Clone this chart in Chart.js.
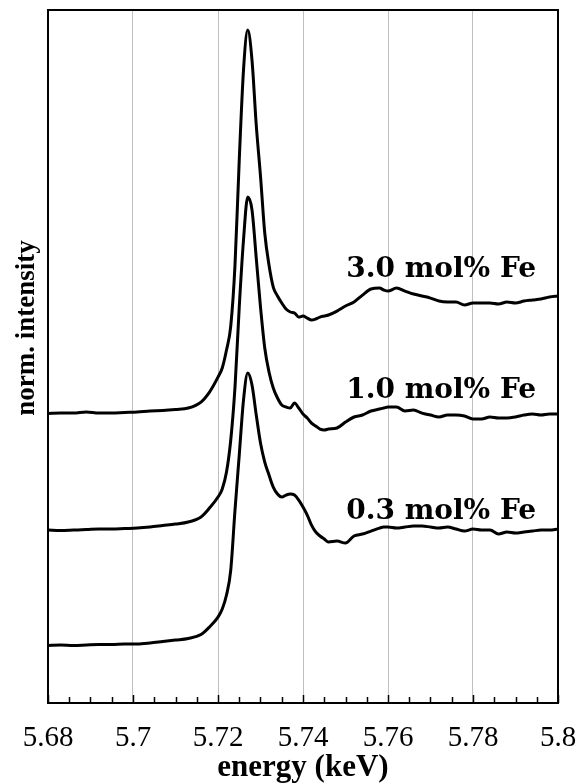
<!DOCTYPE html>
<html>
<head>
<meta charset="utf-8">
<script src="https://cdn.jsdelivr.net/npm/chart.js@4.4.1/dist/chart.umd.min.js"></script>
<style>
  html, body { margin: 0; padding: 0; background: #fff; }
</style>
</head>
<body>
<canvas id="chart" width="579" height="783"></canvas>
<script>
// energy grid (keV)
const energy = [
  5.680, 5.683, 5.686, 5.689, 5.692, 5.695, 5.698, 5.701, 5.704, 5.707,
  5.710, 5.713, 5.716, 5.718, 5.720, 5.721, 5.722, 5.723, 5.724, 5.725,
  5.726, 5.727, 5.728, 5.729, 5.730, 5.731, 5.732, 5.733, 5.734, 5.735,
  5.736, 5.737, 5.738, 5.739, 5.740, 5.741, 5.742, 5.743, 5.744, 5.745,
  5.746, 5.748, 5.750, 5.752, 5.754, 5.756, 5.758, 5.759, 5.760, 5.762,
  5.764, 5.766, 5.768, 5.770, 5.772, 5.774, 5.776, 5.778, 5.780, 5.782,
  5.784, 5.786, 5.788, 5.790, 5.792, 5.794, 5.796, 5.798, 5.800,
];

// normalized intensity of each sample
const fe03 = [
  -0.004, 0.000, -0.004, 0.000, 0.004, 0.004, 0.009, 0.009, 0.017, 0.030,
  0.043, 0.057, 0.091, 0.157, 0.243, 0.313, 0.435, 0.652, 1.174, 1.652,
  2.130, 2.365, 2.261, 2.000, 1.757, 1.591, 1.478, 1.374, 1.313, 1.287,
  1.304, 1.313, 1.304, 1.261, 1.200, 1.130, 1.043, 0.983, 0.948, 0.922,
  0.896, 0.904, 0.887, 0.948, 0.965, 0.991, 1.017, 1.026, 1.026, 1.017,
  1.026, 1.035, 1.035, 1.026, 1.017, 1.026, 1.009, 0.991, 1.009, 1.000,
  1.000, 0.965, 0.983, 0.974, 0.983, 0.991, 1.000, 1.000, 1.009,
];
const fe10 = [
  0.000, -0.004, 0.000, 0.004, 0.009, 0.009, 0.013, 0.017, 0.026, 0.039,
  0.052, 0.070, 0.113, 0.191, 0.287, 0.357, 0.504, 0.783, 1.243, 1.939,
  2.522, 2.896, 2.783, 2.365, 1.939, 1.583, 1.374, 1.235, 1.148, 1.087,
  1.070, 1.061, 1.104, 1.061, 1.009, 0.974, 0.930, 0.904, 0.878, 0.870,
  0.878, 0.887, 0.939, 0.983, 1.000, 1.035, 1.052, 1.061, 1.070, 1.070,
  1.035, 1.043, 1.017, 1.000, 0.983, 1.000, 1.000, 0.991, 0.965, 0.965,
  0.983, 0.974, 0.974, 0.983, 1.000, 1.009, 1.000, 1.009, 1.009,
];
const fe30 = [
  0.013, 0.017, 0.017, 0.026, 0.017, 0.017, 0.022, 0.026, 0.035, 0.039,
  0.048, 0.061, 0.113, 0.200, 0.330, 0.409, 0.565, 0.774, 1.304, 2.217,
  3.000, 3.348, 3.087, 2.522, 2.078, 1.583, 1.304, 1.113, 1.035, 0.974,
  0.922, 0.896, 0.887, 0.852, 0.861, 0.843, 0.826, 0.835, 0.852, 0.861,
  0.870, 0.904, 0.948, 0.983, 1.043, 1.096, 1.104, 1.087, 1.078, 1.104,
  1.078, 1.052, 1.035, 1.017, 0.991, 0.983, 0.983, 0.957, 0.974, 0.974,
  0.974, 0.965, 0.983, 0.974, 0.991, 1.000, 1.009, 1.026, 1.035,
];

// vertical stacking offsets and curve labels
const seriesNames = ["0.3 mol% Fe", "1.0 mol% Fe", "3.0 mol% Fe"];
const offsets = [0, 1, 2];
const labelEnergy = 5.7725;
const labelY = [1.10, 2.15, 3.20];

const FONT = "'Liberation Serif', 'Times New Roman', serif";

const decorations = {
    id: "decorations",
    afterDraw(chart) {
        const { ctx, chartArea: a, scales: { x, y } } = chart;
        ctx.save();

        // top + right frame
        ctx.strokeStyle = "#000";
        ctx.lineWidth = 2;
        ctx.beginPath();
        ctx.moveTo(a.left, a.top);
        ctx.lineTo(a.right, a.top);
        ctx.lineTo(a.right, a.bottom);
        ctx.stroke();

        // inward tick marks on the energy axis
        ctx.lineWidth = 1.5;
        for (let i = 0; i <= 24; i++) {
            const px = Math.round(x.getPixelForValue(5.68 + i * 0.005)) + 0.5;
            const len = i % 4 === 0 ? 8 : 6;
            ctx.beginPath();
            ctx.moveTo(px, a.bottom);
            ctx.lineTo(px, a.bottom - len);
            ctx.stroke();
        }

        // curve labels
        ctx.fillStyle = "#000";
        ctx.font = "bold 28px 'DejaVu Serif', serif";
        ctx.textAlign = "center";
        ctx.textBaseline = "alphabetic";
        seriesNames.forEach((name, i) => {
            ctx.fillText(name, x.getPixelForValue(labelEnergy), y.getPixelForValue(labelY[i]));
        });

        // axis titles
        ctx.font = "bold 31px " + FONT;
        ctx.fillText("energy (keV)", (a.left + a.right) / 2, 776);

        ctx.translate(34, 328);
        ctx.rotate(-Math.PI / 2);
        ctx.font = "bold 27px " + FONT;
        ctx.fillText("norm. intensity", 0, 0);

        ctx.restore();
    },
};

new Chart(document.getElementById("chart"), {
    type: "line",
    data: {
        datasets: [fe03, fe10, fe30].map((vals, s) => ({
            label: seriesNames[s],
            data: energy.map((e, i) => ({ x: e, y: vals[i] + offsets[s] })),
            borderColor: "#000",
            borderWidth: 3,
            borderJoinStyle: "round",
            pointRadius: 0,
            cubicInterpolationMode: "monotone",
            fill: false,
        })),
    },
    options: {
        responsive: false,
        animation: false,
        layout: { padding: { top: 10, right: 21, left: 0, bottom: 0 } },
        plugins: {
            legend: { display: false },
            tooltip: { enabled: false },
        },
        scales: {
            x: {
                type: "linear",
                min: 5.68,
                max: 5.8,
                afterFit: (s) => { s.height = 80; s.paddingLeft = 0; s.paddingRight = 0; },
                ticks: {
                    stepSize: 0.02,
                    padding: 18,
                    color: "#000",
                    font: { family: FONT, size: 29 },
                    callback: (v) => String(+v.toFixed(2)),
                },
                grid: { color: "#bfbfbf", lineWidth: 1, drawTicks: false },
                border: { color: "#000", width: 2 },
            },
            y: {
                type: "linear",
                min: -0.504,
                max: 5.522,
                afterFit: (s) => { s.width = 48; },
                ticks: { display: false },
                grid: { display: false },
                border: { color: "#000", width: 2 },
            },
        },
    },
    plugins: [decorations],
});
</script>
</body>
</html>
